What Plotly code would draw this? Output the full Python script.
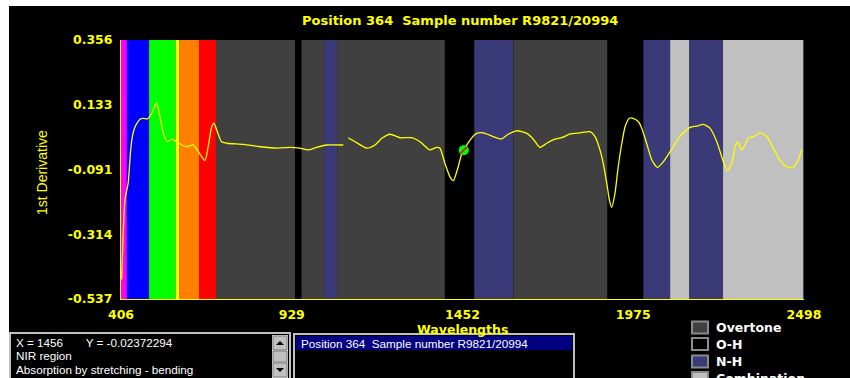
import plotly.graph_objects as go

# ---------------- data ----------------
wavelength = [408, 412, 418, 428, 434, 439, 449, 464, 474, 487, 500, 515, 525, 536, 548, 561,
              577, 592, 609, 627, 643, 663, 673, 684, 691, 701, 714, 730, 781, 832, 883, 924,
              954, 980, 1005, 1036, 1087, None,
              1102, 1123, 1159, 1184, 1205, 1230, 1261, 1296, 1322, 1352, 1373, 1383, 1398,
              1414, 1424, 1436, 1450, 1457, 1475, 1495, 1516, 1546, 1572, 1592, 1618, 1649,
              1669, 1689, 1710, 1735, 1756, 1781, 1812, 1843, 1858, 1873, 1883, 1894, 1902,
              1909, 1919, 1929, 1940, 1950, 1963, 1975, 1991, 2001, 2016, 2032, 2049, 2067,
              2088, 2118, 2149, 2169, 2190, 2210, 2231, 2251, 2263, 2277, 2287, 2295, 2307,
              2317, 2327, 2343, 2363, 2384, 2404, 2424, 2445, 2465, 2480, 2491]
derivative = [-0.470, -0.334, -0.196, -0.137, -0.046, 0.011, 0.057, 0.083, 0.086, 0.084, 0.103,
              0.140, 0.092, 0.034, 0.005, 0.014, 0.005, -0.006, -0.012, -0.006, -0.029, -0.060,
              -0.012, 0.057, 0.069, 0.040, 0.005, 0.000, -0.004, -0.012, -0.017, -0.014,
              -0.017, -0.023, -0.014, -0.006, -0.006, None,
              0.019, 0.005, -0.017, -0.006, 0.017, 0.031, 0.019, 0.019, 0.005, -0.023, -0.014,
              -0.017, -0.069, -0.117, -0.129, -0.092, -0.035, -0.021, 0.011, 0.034, 0.036,
              0.023, 0.015, 0.031, 0.043, 0.034, 0.014, -0.014, 0.000, 0.014, 0.019, 0.032,
              0.036, 0.040, 0.023, -0.023, -0.069, -0.138, -0.196, -0.221, -0.173, -0.081,
              0.000, 0.057, 0.086, 0.086, 0.074, 0.052, 0.000, -0.058, -0.083, -0.064, -0.029,
              0.023, 0.055, 0.059, 0.065, 0.052, 0.005, -0.064, -0.095, -0.069, -0.012, 0.005,
              -0.023, -0.006, 0.017, 0.023, 0.036, 0.023, -0.017, -0.058, -0.081, -0.084,
              -0.058, -0.023]

cursor_wavelength = [1456]
cursor_value = [-0.02372294]

band_start = [406, 424, 492, 573, 584, 645, 697, 939, 959, 1028, 1068, 1398, 1488, 1608,
              1896, 2006, 2088, 2147, 2250]
band_end = [424, 492, 573, 584, 645, 697, 939, 959, 1028, 1068, 1398, 1488, 1608, 1896,
            2006, 2088, 2147, 2250, 2496]
band_type = ["violet", "blue", "green", "yellow", "orange", "red", "Overtone", "O-H",
             "Overtone", "N-H", "Overtone", "O-H", "N-H", "Overtone", "O-H", "N-H",
             "Combination", "N-H", "Combination"]

x_ticks = [406, 929, 1452, 1975, 2498]
y_ticks = [0.356, 0.133, -0.091, -0.314, -0.537]
y_tick_labels = ["0.356", "0.133", "-0.091", "-0.314", "-0.537"]

legend_labels = ["Overtone", "O-H", "N-H", "Combination"]
title_text = "Position 364  Sample number R9821/20994"
info_lines = ["X = 1456       Y = -0.02372294", "NIR region", "Absorption by stretching - bending"]
list_item = "Position 364  Sample number R9821/20994"

# ---------------- styles ----------------
band_colors = {"violet": "#ff00ff", "blue": "#0000ff", "green": "#00ff00", "yellow": "#ffff00",
               "orange": "#ff8000", "red": "#ff0000", "Overtone": "#404040", "O-H": "#000000",
               "N-H": "#3a3a78", "Combination": "#c0c0c0"}
YEL = "#ffff00"
FONT = "Liberation Sans"
BFONT = "DejaVu Sans"

W, H = 850, 378
L, R, T, B = 121, 804, 40, 299


def px2x(px):
    return (px - L) / (R - L)


def py2y(py):
    return (B - py) / (B - T)


fig = go.Figure()

shapes = []
for s, e, t in zip(band_start, band_end, band_type):
    shapes.append(dict(type="rect", xref="x", yref="paper", x0=s, x1=e, y0=0, y1=1,
                       fillcolor=band_colors[t], line=dict(width=0), layer="below"))

# window white edges
shapes.append(dict(type="rect", xref="paper", yref="paper", x0=px2x(-5), x1=px2x(855),
                   y0=py2y(6), y1=py2y(-5), fillcolor="white", line=dict(width=0), layer="above"))
shapes.append(dict(type="rect", xref="paper", yref="paper", x0=px2x(-5), x1=px2x(9),
                   y0=py2y(385), y1=py2y(-5), fillcolor="white", line=dict(width=0), layer="above"))


def box(x0, y0, x1, y1, fill, line="#c0c0c0", lw=1):
    shapes.append(dict(type="rect", xref="paper", yref="paper", x0=px2x(x0), x1=px2x(x1),
                       y0=py2y(y1), y1=py2y(y0), fillcolor=fill,
                       line=dict(color=line, width=lw), layer="above"))


# info box
box(10, 333, 290, 382, "#000000", "#c0c0c0", 2)
box(272, 335, 288, 382, "#e4e4e4", "#e4e4e4", 0)
box(273, 336, 287, 350, "#c0c0c0", "#808080", 1)
box(273, 351, 287, 362, "#c0c0c0", "#808080", 1)
box(273, 363, 287, 377, "#c0c0c0", "#808080", 1)


def tri(cx, cy, up):
    d = -1 if up else 1
    pts = [(cx - 4, cy - 2 * d), (cx + 4, cy - 2 * d), (cx, cy + 2 * d)]
    path = "M " + " L ".join(f"{px2x(a)},{py2y(b)}" for a, b in pts) + " Z"
    shapes.append(dict(type="path", xref="paper", yref="paper", path=path,
                       fillcolor="#000000", line=dict(width=0), layer="above"))


tri(280, 343, True)
tri(280, 370, False)

# list box
box(294, 334, 574, 382, "#000000", "#c0c0c0", 2)
box(296, 336, 572, 350, "#000080", "#000080", 0)

# legend swatches
leg_y = [327.5, 344, 361.5, 378]
for lab, cy in zip(legend_labels, leg_y):
    box(692, cy - 6, 708, cy + 6, band_colors[lab], "#8a8a8a", 2)

annotations = []
annotations.append(dict(text=f"<b>{title_text}</b>", x=px2x(460), y=py2y(21), xref="paper",
                        yref="paper", showarrow=False, font=dict(family=BFONT, size=13, color=YEL),
                        xanchor="center", yanchor="middle"))
annotations.append(dict(text="1st Derivative", x=px2x(42), y=py2y(173), xref="paper",
                        yref="paper", showarrow=False, textangle=-90,
                        font=dict(family=FONT, size=14, color=YEL),
                        xanchor="center", yanchor="middle"))
annotations.append(dict(text="<b>Wavelengths</b>", x=px2x(462), y=py2y(329), xref="paper",
                        yref="paper", showarrow=False, font=dict(family=BFONT, size=12.5, color=YEL),
                        xanchor="center", yanchor="middle"))
for i, line in enumerate(info_lines):
    annotations.append(dict(text=line, x=px2x(14), y=py2y(342 + i * 13.5), xref="paper",
                            yref="paper", showarrow=False,
                            font=dict(family=FONT, size=11.7, color="#ffffff"),
                            xanchor="left", yanchor="middle"))
annotations.append(dict(text=list_item, x=px2x(299), y=py2y(343), xref="paper", yref="paper",
                        showarrow=False, font=dict(family=FONT, size=11.7, color="#ffffff"),
                        xanchor="left", yanchor="middle"))
for lab, cy in zip(legend_labels, leg_y):
    annotations.append(dict(text=f"<b>{lab}</b>", x=px2x(714), y=py2y(cy), xref="paper",
                            yref="paper", showarrow=False,
                            font=dict(family=BFONT, size=12.5, color="#ffffff"),
                            xanchor="left", yanchor="middle"))

fig.add_trace(go.Scatter(x=wavelength, y=derivative, mode="lines", connectgaps=False,
                         line=dict(color=YEL, width=1.3, shape="spline", smoothing=0.6),
                         hoverinfo="skip", showlegend=False))
fig.add_trace(go.Scatter(x=cursor_wavelength, y=cursor_value, mode="markers",
                         marker=dict(symbol="circle", size=10, color="#00ff00",
                                     line=dict(width=0)), showlegend=False))
fig.add_trace(go.Scatter(x=cursor_wavelength, y=cursor_value, mode="markers",
                         marker=dict(symbol="line-ne", size=6, color="#ff0000",
                                     line=dict(width=1.5, color="#ff0000")), showlegend=False))

fig.update_layout(
    width=W, height=H,
    margin=dict(l=L, r=W - R, t=T, b=H - B, pad=0),
    paper_bgcolor="#000000", plot_bgcolor="#000000",
    shapes=shapes, annotations=annotations, showlegend=False,
    xaxis=dict(range=[406, 2498], tickvals=x_ticks, ticktext=[str(v) for v in x_ticks],
               showgrid=False, zeroline=False, showline=True, linecolor=YEL, linewidth=1,
               ticks="", ticklabelstandoff=4,
               tickfont=dict(family=BFONT, size=12.5, color=YEL, weight="bold")),
    yaxis=dict(range=[-0.537, 0.356], tickvals=y_ticks, ticktext=y_tick_labels,
               showgrid=False, zeroline=False, showline=True, linecolor=YEL, linewidth=1,
               ticks="", ticklabelstandoff=5,
               tickfont=dict(family=BFONT, size=12.5, color=YEL, weight="bold")),
)

fig.write_html("out.html")
